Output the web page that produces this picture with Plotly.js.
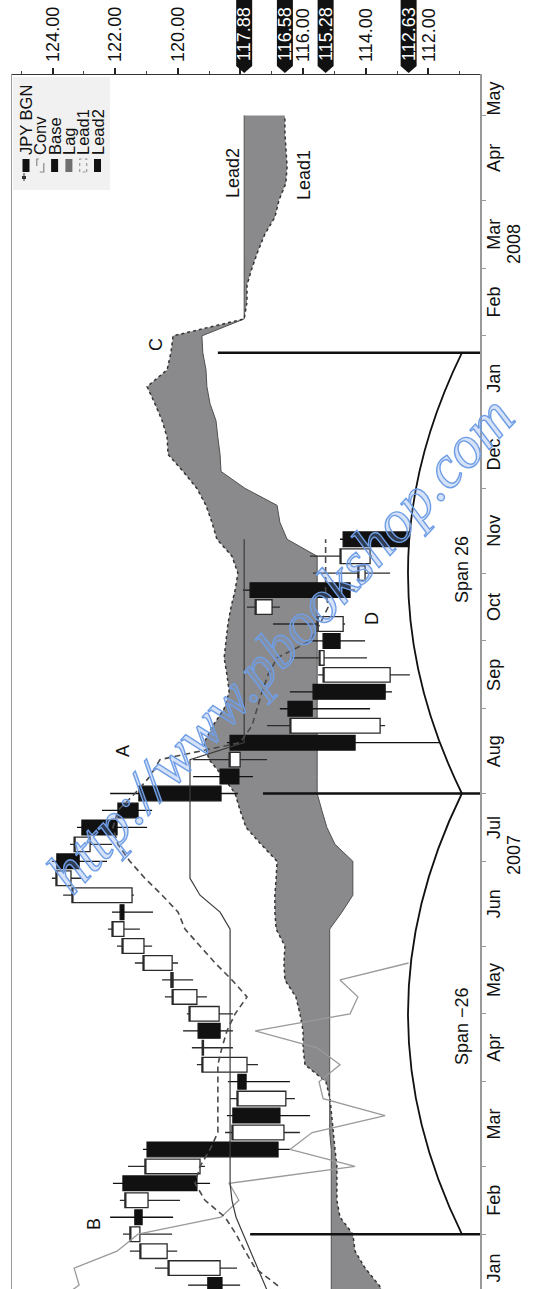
<!DOCTYPE html>
<html>
<head>
<meta charset="utf-8">
<script src="https://cdn.plot.ly/plotly-3.0.1.min.js"></script>
<style>
html,body{margin:0;padding:0;width:538px;height:1289px;overflow:hidden;background:#ffffff}
#chart{position:absolute;left:0;top:0;width:1289px;height:538px;transform-origin:0 0;transform:translate(0px,1289px) rotate(-90deg)}
</style>
</head>
<body>
<div id="chart"></div>
<script>
// ---- Weekly JPY BGN candles (week index 1..45; week 0 = first week of Jan 2007) ----
const openP  = [119.04,118.65,120.34,121.21,121.37,120.95,121.75,119.29,120.98,116.61,118.24,116.55,118.08,117.79,119.18,119.35,118.68,119.39,120.15,120.18,121.08,121.72,121.84,121.46,123.41,123.86,122.80,123.06,121.91,121.24,118.65,118.01,118.33,113.54,116.48,115.68,113.22,115.33,115.36,114.72,116.99,117.69,114.02,113.86,114.72];
const highP  = [119.67,120.73,121.53,121.75,122.16,121.85,122.07,121.59,121.11,118.49,118.43,118.33,118.40,119.39,119.55,119.83,119.71,120.41,120.50,121.37,121.94,122.23,122.10,123.66,124.02,124.02,123.44,123.22,122.42,122.16,119.51,119.51,118.43,117.15,116.74,116.42,115.52,116.35,115.78,116.96,117.79,117.92,115.68,115.78,114.82];
const lowP   = [118.01,118.11,120.02,120.18,120.15,119.93,118.97,119.13,116.42,116.10,115.78,116.26,116.42,117.44,118.24,118.24,118.24,119.07,119.51,119.99,120.82,121.21,120.79,121.40,123.09,122.26,122.10,120.98,120.82,118.08,117.60,117.15,111.63,113.38,113.86,113.16,112.59,113.96,114.02,114.66,116.74,114.34,113.22,113.80,112.59];
const closeP = [118.59,120.31,121.21,121.53,121.14,121.69,119.39,121.05,116.80,118.27,116.74,118.11,117.82,119.23,119.22,118.65,119.64,120.18,120.22,121.11,121.78,122.10,121.72,123.38,123.89,123.15,123.31,121.94,121.27,118.62,118.05,118.36,114.34,116.42,115.71,113.38,115.36,115.49,114.82,115.55,117.53,114.50,114.25,114.82,112.63];

// ---- Ichimoku lines (week index starting at 0) ----
const convLine = [116.42,116.83,117.53,117.85,118.14,118.49,119.13,119.45,119.29,118.97,118.72,118.72,118.72,118.72,118.72,118.59,118.43,118.17,117.79,118.27,118.81,119.29,119.77,119.99,120.50,121.05,121.53,121.91,122.07,121.91,121.37,120.89,120.57,118.01,117.63,117.47,117.31,117.12,116.83,115.78,115.46,115.20,115.28,115.28,115.28,115.28];
const baseLine = [116.99,117.22,117.47,117.69,117.92,118.14,118.27,118.33,118.33,118.33,118.33,118.33,118.33,118.33,118.33,118.33,118.33,118.33,118.33,118.33,118.33,118.33,118.33,118.65,119.29,119.61,119.61,119.61,119.61,119.61,119.61,119.61,119.61,117.88,117.88,117.88,117.88,117.88,117.88,117.88,117.88,117.88,117.88,117.88,117.88,117.88];
const lagLine  = [123.89,123.15,123.31,121.94,121.27,118.62,118.05,118.36,114.34,116.42,115.71,113.38,115.36,115.49,114.82,115.55,117.53,114.50,114.25,114.82,112.63];
const lead1Line = [113.22,113.58,114.02,114.34,114.41,114.82,114.92,114.92,114.92,114.98,
  115.04,115.08,115.14,115.27,115.94,116.00,116.00,116.10,116.23,116.58,
  116.61,116.58,116.86,116.90,116.90,116.86,116.83,117.34,117.82,118.01,
  118.17,118.56,119.00,119.16,118.88,118.52,118.36,118.43,118.52,118.46,
  118.40,118.30,118.17,118.08,118.27,118.75,118.91,119.10,119.39,119.83,
  120.31,120.34,120.50,120.73,120.98,120.34,120.22,120.15,117.88,117.79,
  117.79,117.63,117.44,117.22,116.90,116.77,116.55,116.51,116.55,116.58,116.58];
const lead2Line = [115.10,115.10,115.10,115.10,115.10,115.10,115.10,115.10,115.10,115.10,
  115.15,115.15,115.15,115.15,115.15,115.15,115.15,115.15,115.15,115.15,
  115.15,115.15,115.15,114.76,114.41,114.41,114.41,114.98,115.24,115.40,
  115.55,115.55,115.55,115.55,115.55,115.55,115.55,115.55,115.55,115.55,
  115.55,115.55,115.55,115.55,115.55,116.51,116.74,116.83,117.85,118.62,
  118.65,118.72,118.78,118.97,119.07,119.10,119.20,119.23,117.88,117.88,
  117.88,117.88,117.88,117.88,117.88,117.88,117.88,117.88,117.88,117.88,117.88];

// ---- Axis labels ----
const monthStarts = [0,4,8,13,17,21,26,30,35,39,43,48,52,57,61,65,70];
const monthNames  = ['Jan','Feb','Mar','Apr','May','Jun','Jul','Aug','Sep','Oct','Nov','Dec','Jan','Feb','Mar','Apr','May'];
const lastMonthEnd = 72;
const yearLabels = ['2007','2008'];
const yearWeeks  = [26.4, 62.4];
const priceTicks    = [112,114,116,118,120,122,124];
const priceTickText = ['112.00','114.00','116.00','','120.00','122.00','124.00'];
const priceMinor    = [111,113,115,117,119,121,123,125];
const lastValues    = [117.88,116.58,115.28,112.63];

// ---- Chart notes ----
const noteText  = ['A','B','C','D'];
const noteWeek  = [32.5, 4.6, 56.5, 40.3];
const notePrice = [121.75, 122.68, 120.70, 113.80];
const spanWeeks = [4, 30, 56];
const spanTop   = [117.69, 117.28, 118.72];
const spanText  = ['Span \u221226', 'Span 26'];
const spanTextWeek = [16.3, 43.2];
const spanBase = 110.93, spanPeak = 112.65;
const leadText  = ['Lead2','Lead1'];
const leadWeek  = [66.6, 66.5];
const leadPrice = [118.24, 115.98];
const legendNames = ['JPY BGN','Conv','Base','Lag','Lead1','Lead2'];

const seq = (a, n) => Array.from({length: n}, (_, i) => a + i);
const FONT = 'Liberation Sans, Arial, Helvetica, sans-serif';
const xRange = [0.767, 72.39];
const yRange = [110.351, 125.293];

const traces = [
  {type:'scatter', x: seq(0, lead2Line.length), y: lead2Line, mode:'lines',
   line:{color:'#505050', width:1}, hoverinfo:'skip', xaxis:'x', yaxis:'y'},
  {type:'scatter', x: seq(0, lead1Line.length), y: lead1Line, mode:'lines', fill:'tonexty',
   fillcolor:'rgb(138,138,140)', line:{color:'#333333', width:1.5, dash:'dot'}, hoverinfo:'skip', xaxis:'x', yaxis:'y'},
  {type:'candlestick', x: seq(1, openP.length), open: openP, high: highP, low: lowP, close: closeP,
   xaxis:'x2', yaxis:'y2', whiskerwidth:0,
   increasing:{line:{color:'#2a2a2a', width:1.3}, fillcolor:'#ffffff'},
   decreasing:{line:{color:'#111111', width:1.3}, fillcolor:'#111111'}},
  {type:'scatter', x: seq(0, lagLine.length), y: lagLine, mode:'lines',
   line:{color:'#9a9a9a', width:1.3}, hoverinfo:'skip', xaxis:'x2', yaxis:'y2'},
  {type:'scatter', x: seq(0, baseLine.length), y: baseLine, mode:'lines',
   line:{color:'#3c3c3c', width:1.2}, hoverinfo:'skip', xaxis:'x2', yaxis:'y2'},
  {type:'scatter', x: seq(0, convLine.length), y: convLine, mode:'lines',
   line:{color:'#4a4a4a', width:1.6, dash:'6px,4px'}, hoverinfo:'skip', xaxis:'x2', yaxis:'y2'}
];

const monthMid = monthStarts.map((s, i) => (s + (i + 1 < monthStarts.length ? monthStarts[i + 1] : lastMonthEnd)) / 2);

const shapes = [];
const annotations = [];

// span marker lines and arcs
spanWeeks.forEach((w, i) => {
  shapes.push({type:'line', xref:'x', yref:'y', x0:w, x1:w, y0:yRange[0], y1:spanTop[i], line:{color:'#111', width:2.6}});
});
for (let i = 0; i < spanWeeks.length - 1; i++) {
  const a = spanWeeks[i], b = spanWeeks[i + 1], m = (a + b) / 2;
  const ctrl = 2 * spanPeak - spanBase;
  shapes.push({type:'path', xref:'x', yref:'y', path:`M ${a},${spanBase} Q ${m},${ctrl} ${b},${spanBase}`,
    line:{color:'#111', width:1.8}});
  annotations.push({xref:'x', yref:'y', x: spanTextWeek[i], y: spanBase, text: spanText[i], showarrow:false,
    font:{family:FONT, size:18, color:'#111'}, xanchor:'center', yanchor:'middle'});
}

noteText.forEach((t, i) => annotations.push({xref:'x', yref:'y', x: noteWeek[i], y: notePrice[i], text:t,
  showarrow:false, font:{family:FONT, size:18, color:'#111'}}));
leadText.forEach((t, i) => annotations.push({xref:'x', yref:'y', x: leadWeek[i], y: leadPrice[i], text:t,
  showarrow:false, font:{family:FONT, size:18, color:'#111'}}));
yearLabels.forEach((t, i) => annotations.push({xref:'x', yref:'paper', x: yearWeeks[i], y: -0.0737, text:t,
  showarrow:false, font:{family:FONT, size:18, color:'#111'}, yanchor:'middle'}));

// last-value markers on the price axis
const PW = 1214, PH = 468;
const hh = 8 / 31.32;
lastValues.forEach(v => {
  const tip = 1216 / PW, sh = 1223 / PW, rt = 1.08;
  shapes.push({type:'path', xref:'paper', yref:'y',
    path:`M ${tip},${v} L ${sh},${v + hh} L ${rt},${v + hh} L ${rt},${v - hh} L ${sh},${v - hh} Z`,
    fillcolor:'#111', line:{width:0}});
  annotations.push({xref:'paper', yref:'y', x: 1226 / PW, y: v, text: v.toFixed(2), showarrow:false,
    xanchor:'left', yanchor:'middle', font:{family:FONT, size:18, color:'#ffffff'}});
});

// legend (drawn manually, compact rows)
const px = u => u / PW, py = v => (480 - v) / PH;
shapes.push({type:'rect', xref:'paper', yref:'paper', x0:px(1099), x1:px(1212), y0:py(110), y1:py(13),
  fillcolor:'#f1f1f1', line:{width:0}, layer:'above'});
const legSym = [
  {fill:'#111', line:{width:0}},
  {fill:'rgba(0,0,0,0)', line:{color:'#888', width:1.2, dash:'dash'}},
  {fill:'#111', line:{width:0}},
  {fill:'#6e6e6e', line:{width:0}},
  {fill:'rgba(0,0,0,0)', line:{color:'#999', width:1.2, dash:'dot'}},
  {fill:'#111', line:{width:0}}
];
legendNames.forEach((name, i) => {
  const v = 26 + 14.3 * i;
  shapes.push({type:'rect', xref:'paper', yref:'paper', x0:px(1117), x1:px(1130), y0:py(v + 3.5), y1:py(v - 3.5),
    fillcolor: legSym[i].fill, line: legSym[i].line});
  annotations.push({xref:'paper', yref:'paper', x:px(1132), y:py(v), text:name, showarrow:false,
    xanchor:'left', yanchor:'middle', font:{family:FONT, size:16.5, color:'#111'}});
});
// tiny candle icon
shapes.push({type:'line', xref:'paper', yref:'paper', x0:px(1108), x1:px(1116), y0:py(24), y1:py(24), line:{color:'#333', width:1}});
shapes.push({type:'rect', xref:'paper', yref:'paper', x0:px(1110), x1:px(1113), y0:py(26), y1:py(22), fillcolor:'#333', line:{width:0}});

// watermark
annotations.push({xref:'x', yref:'y', x:38.8, y:116.75, text:'http://www.pbookshop.com', showarrow:false, textangle:43,
  font:{family:'Liberation Serif, Times New Roman, serif', size:60, color:'rgba(120,160,230,0.30)', style:'italic'}});

const layout = {
  width:1289, height:538,
  margin:{l:0, r:75, t:12, b:58},
  paper_bgcolor:'#ffffff', plot_bgcolor:'#ffffff',
  showlegend:false,
  boxgap:0.06, boxgroupgap:0.08,
  font:{family:FONT, size:18, color:'#111'},
  xaxis:{range:xRange, showgrid:false, zeroline:false, showline:true, linecolor:'#999', linewidth:1.5, mirror:true,
    tickmode:'array', tickvals:monthMid, ticktext:monthNames, ticks:'', tickfont:{family:FONT, size:18, color:'#111'},
    ticklabelstandoff:-3,
    minor:{tickmode:'array', tickvals:monthStarts, ticks:'outside', ticklen:4, tickwidth:1, tickcolor:'#999', showgrid:false},
    rangeslider:{visible:false}, fixedrange:true},
  yaxis:{range:yRange, side:'right', showgrid:false, zeroline:false, showline:true, linecolor:'#333', linewidth:1.5,
    tickmode:'array', tickvals:priceTicks, ticktext:priceTickText, ticks:'outside', ticklen:6, tickwidth:2, tickcolor:'#222',
    tickfont:{family:FONT, size:18, color:'#111'}, ticklabelstandoff:2,
    minor:{tickmode:'array', tickvals:priceMinor, ticks:'outside', ticklen:3, tickwidth:1, tickcolor:'#444', showgrid:false},
    fixedrange:true},
  xaxis2:{overlaying:'x', range:xRange, visible:false, showgrid:false, zeroline:false, rangeslider:{visible:false}, fixedrange:true},
  yaxis2:{overlaying:'y', range:yRange, visible:false, showgrid:false, zeroline:false, fixedrange:true},
  shapes:shapes,
  annotations:annotations
};

Plotly.newPlot('chart', traces, layout, {staticPlot:true, displayModeBar:false}).then(() => {
  document.querySelectorAll('#chart .annotation-text').forEach(el => {
    if (el.textContent.indexOf('pbookshop') >= 0) {
      el.style.stroke = '#6f9ee6';
      el.style.strokeWidth = '1.4px';
    }
  });
});
</script>
</body>
</html>
